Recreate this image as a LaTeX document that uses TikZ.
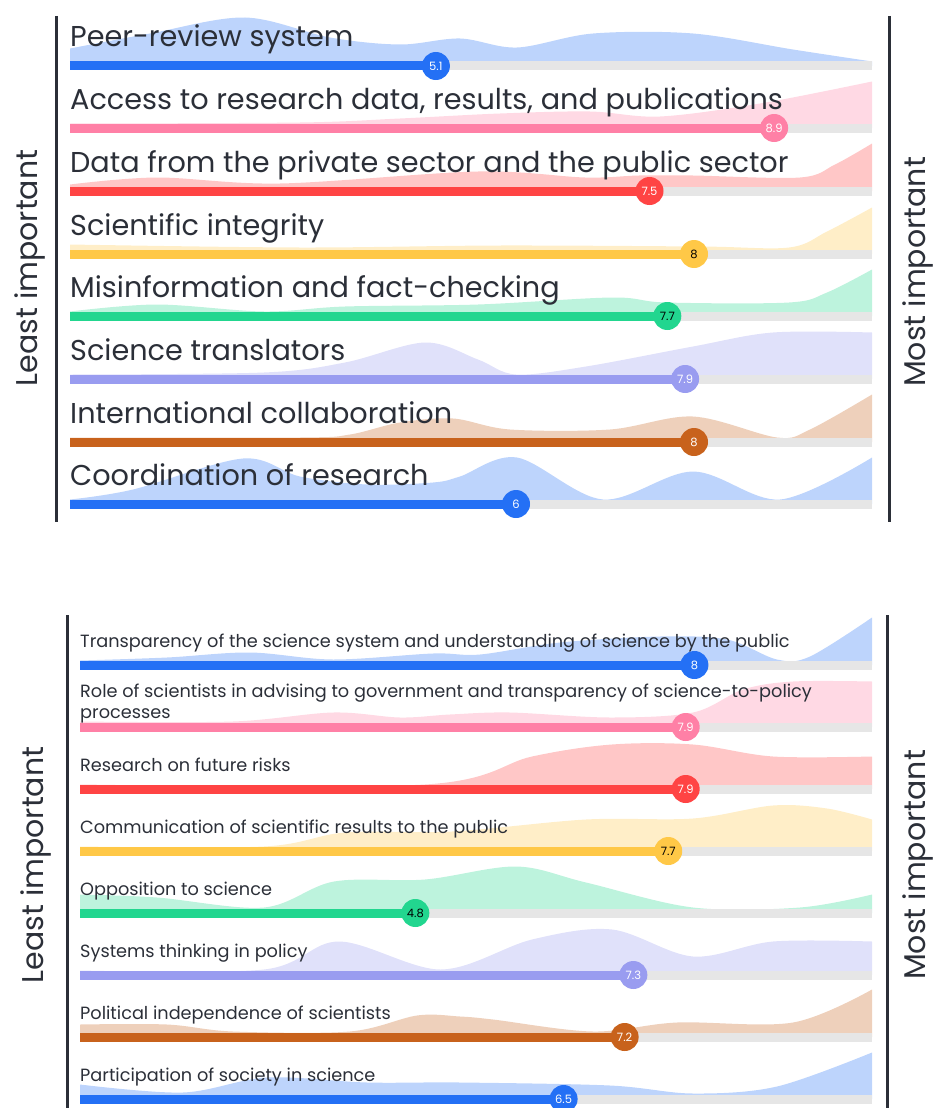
\documentclass[tikz,border=0pt]{standalone}
\usepackage{fontspec}
\setmainfont{Poppins}
\usetikzlibrary{positioning}

\definecolor{cblue}{HTML}{2470F5}
\definecolor{cpink}{HTML}{FF80A6}
\definecolor{cred}{HTML}{FF4444}
\definecolor{cyellow}{HTML}{FFC847}
\definecolor{cgreen}{HTML}{22D68F}
\definecolor{clav}{HTML}{999CF0}
\definecolor{corange}{HTML}{C8621C}
\definecolor{ctrack}{HTML}{E6E6E6}
\definecolor{cink}{HTML}{2B2F38}

% one ridge row: bar y, colour, value, number colour, label, curve, name, label y
\newcommand{\ridge}[8]{%
  \begin{scope}[shift={(0,#1)}]
    \begin{scope}[shift={(0,-4.5)},yscale=-1]
      \fill[#2!30] plot[smooth,tension=0.55] coordinates {#6} -- (872,-4.5) -- (\xs,-4.5) -- cycle;
    \end{scope}
    \fill[ctrack] (\xs,-4.5) rectangle (872,4.5);
    \fill[#2] (\xs,-4.5) rectangle ({\xo+(#3-1)*\xk},4.5);
    \node[lbl] (l#7) at (\xs,#8) {#5};
    \node[val,fill=#2,text=#4] (v#7) at ({\xo+(#3-1)*\xk},0) {#3};
  \end{scope}}

\begin{document}
\begin{tikzpicture}[x=1pt,y=-1pt,
    axis/.style={cink,line width=3pt},
    side/.style={cink,rotate=90,font=\fontsize{30}{30}\selectfont},
    lbl/.style={anchor=base west,inner sep=0,cink,align=left},
    val/.style={circle,inner sep=0,minimum size=28pt,font=\fontsize{11.5}{11.5}\selectfont}]

  \useasboundingbox (0,0) rectangle (935,1108);

  % upper panel
  \draw[axis] (56,16) -- (56,522);
  \draw[axis] (889,16) -- (889,522);
  \node[side] (least1) at (30,268) {Least important};
  \node[side] (most1) at (918,272) {Most important};

  \begin{scope}[lbl/.append style={font=\fontsize{28.7}{28.7}\selectfont}]
    \def\xs{70}\def\xo{71}\def\xk{89}
    \ridge{66}{cblue}{5.1}{white}{Peer-review system}
      {(70,13) (150,28) (245,44) (330,24) (400,17) (460,23) (517,14) (593,28) (693,28) (793,12) (872,0)}{a1}{-19}
    \ridge{128}{cpink}{8.9}{white}{Access to research data, results, and publications}
      {(70,0) (300,1) (400,5) (500,10) (590,12) (660,7) (760,20) (872,42)}{a2}{-19}
    \ridge{191}{cred}{7.5}{white}{Data from the private sector and the public sector}
      {(70,2) (157,9) (280,3) (478,15) (585,9) (639,11) (693,11) (800,9) (835,22) (872,43)}{a3}{-19}
    \ridge{254}{cyellow}{8}{black}{Scientific integrity}
      {(70,5) (300,2) (500,4) (700,3) (789,2) (827,18) (872,42)}{a4}{-19}
    \ridge{316}{cgreen}{7.7}{black}{Misinformation and fact-checking}
      {(70,0) (157,7) (264,0) (345,5) (478,7) (612,14) (666,9) (789,9) (827,19) (872,42)}{a5}{-19}
    \ridge{379}{clav}{7.9}{white}{Science translators}
      {(70,0) (264,2) (345,12) (425,32) (478,15) (516,0) (586,8) (693,28) (773,42) (872,42)}{a6}{-19}
    \ridge{442}{corange}{8}{white}{International collaboration}
      {(70,0) (300,0) (350,3) (400,15) (453,19) (510,8) (610,8) (693,21) (777,0) (810,8) (872,43)}{a7}{-19}
    \ridge{504}{cblue}{6}{white}{Coordination of research}
      {(70,0) (133,10) (243,41) (300,23) (367,15) (433,17) (460,23) (517,42) (603,0) (693,28) (780,0) (872,42)}{a8}{-19}
  \end{scope}

  % lower panel
  \draw[axis] (67,615) -- (67,1110);
  \draw[axis] (887,615) -- (887,1110);
  \node[side] (least2) at (36,865) {Least important};
  \node[side] (most2) at (918,865) {Most important};

  \begin{scope}[lbl/.append style={font=\fontsize{17.7}{21}\selectfont}]
    \def\xs{80}\def\xo{84}\def\xk{87.2}
    \ridge{665}{cblue}{8}{white}{Transparency of the science system and understanding of science by the public}
      {(80,0) (167,3) (250,8) (333,1) (433,7) (480,6) (560,18) (660,24) (727,21) (777,1) (810,4) (872,43)}{b1}{-18}
    \ridge{727}{cpink}{7.9}{white}{Role of scientists in advising to government and transparency of science-to-policy\\processes}
      {(80,1) (233,1) (333,10) (400,5) (450,8) (510,10) (610,5) (693,10) (743,33) (793,41) (872,41)}{b2}{-9}
    \ridge{789}{cred}{7.9}{white}{Research on future risks}
      {(80,0) (425,0) (532,28) (612,40) (693,40) (773,28) (872,28)}{b3}{-18}
    \ridge{851}{cyellow}{7.7}{black}{Communication of scientific results to the public}
      {(80,0) (264,0) (345,14) (452,15) (586,27) (693,28) (773,41) (827,38) (872,27)}{b4}{-18}
    \ridge{913}{cgreen}{4.8}{black}{Opposition to science}
      {(80,14) (157,11) (264,1) (334,27) (425,29) (516,42) (586,26) (693,1) (800,1) (872,14)}{b5}{-18}
    \ridge{975}{clav}{7.3}{white}{Systems thinking in policy}
      {(80,0) (264,1) (339,29) (441,1) (532,31) (612,41) (693,14) (773,29) (872,29)}{b6}{-18}
    \ridge{1037}{corange}{7.2}{white}{Political independence of scientists}
      {(80,8) (167,8) (233,1) (350,1) (417,17) (460,16) (493,13) (593,1) (677,10) (793,10) (872,43)}{b7}{-18}
    \ridge{1099}{cblue}{6.5}{white}{Participation of society in science}
      {(80,10) (183,2) (267,17) (367,12) (460,12) (610,9) (693,1) (777,8) (872,42)}{b8}{-18}
  \end{scope}
\end{tikzpicture}
\end{document}
